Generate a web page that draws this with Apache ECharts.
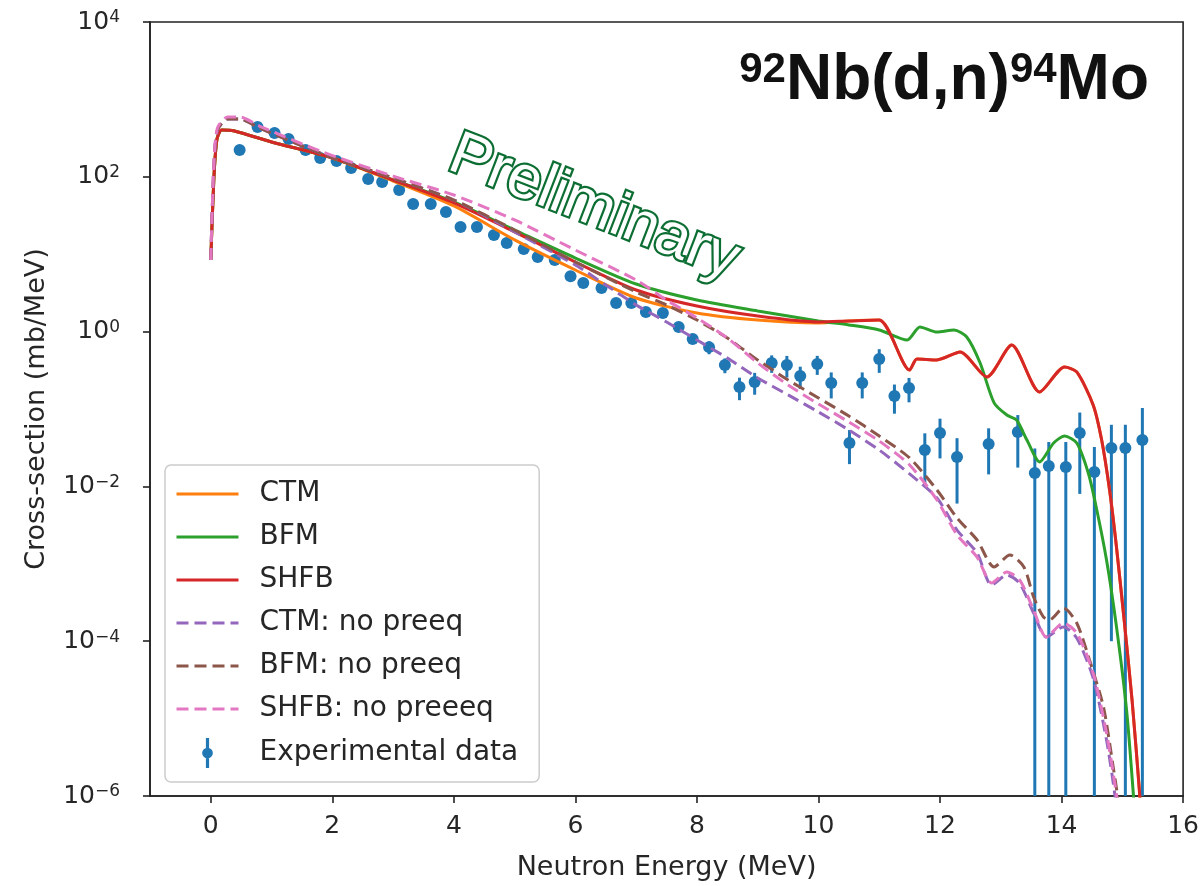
<!DOCTYPE html>
<html>
<head>
<meta charset="utf-8">
<script src="https://cdn.jsdelivr.net/npm/echarts@6/dist/echarts.min.js"></script>
<style>
  html, body { margin: 0; padding: 0; background: #ffffff; }
  #chart { width: 1202px; height: 886px; }
</style>
</head>
<body>
<div id="chart"></div>
<script>
// Neutron emission spectrum, 92Nb(d,n)94Mo: model curves and measured points.

// Axis ticks
const xTicks = [0, 2, 4, 6, 8, 10, 12, 14, 16];
const yTicks = [1e-6, 1e-4, 1e-2, 1, 1e2, 1e4];
const Y_MIN = 1e-6;

// CTM (with pre-equilibrium)
const ctmE = [0, 0.05, 0.10, 0.18, 0.39, 1.0, 2.0, 3.0, 4.0, 5.0, 6.0, 7.0, 8.0, 9.0, 10.0, 10.5, 11.0, 11.5, 11.62, 11.95, 12.33, 12.77, 13.18, 13.64, 14.05, 14.25, 14.52, 14.66, 14.79, 14.90, 15.03, 15.16, 15.28, 15.33];
const ctmXS = [8.42, 91, 299, 403, 391, 282, 175, 88.3, 42, 15.3, 6.25, 2.72, 1.74, 1.41, 1.29, 1.37, 1.41, 0.319, 0.443, 0.430, 0.545, 0.259, 0.671, 0.166, 0.349, 0.301, 0.113, 0.0397, 0.00898, 0.00175, 1.88e-4, 1.74e-5, 1.2e-6, 3e-7];

// BFM (with pre-equilibrium)
const bfmE = [0, 0.05, 0.10, 0.18, 0.39, 1.0, 2.0, 3.0, 4.0, 5.0, 6.0, 7.0, 8.0, 9.0, 10.0, 10.5, 11.0, 11.46, 11.67, 11.95, 12.23, 12.44, 12.66, 12.89, 13.10, 13.26, 13.43, 13.64, 13.87, 14.05, 14.25, 14.44, 14.57, 14.74, 14.90, 15.07, 15.18, 15.23];
const bfmXS = [8.42, 91, 299, 403, 391, 282, 175, 91, 47.3, 20.5, 8.93, 4.12, 2.56, 1.85, 1.37, 1.22, 1.05, 0.779, 1.15, 0.988, 1.05, 0.852, 0.393, 0.120, 0.0836, 0.0721, 0.0397, 0.0207, 0.0364, 0.0448, 0.0364, 0.0149, 0.00542, 0.00112, 1.62e-4, 1.29e-5, 1.09e-6, 3e-7];

// SHFB (with pre-equilibrium)
const shfbE = [0, 0.05, 0.10, 0.18, 0.39, 1.0, 2.0, 3.0, 4.0, 5.0, 6.0, 7.0, 8.0, 9.0, 10.0, 10.5, 11.0, 11.5, 11.62, 11.95, 12.33, 12.77, 13.18, 13.64, 14.05, 14.25, 14.52, 14.66, 14.79, 14.90, 15.03, 15.16, 15.28, 15.33];
const shfbXS = [8.42, 91, 299, 403, 391, 282, 175, 91, 45.9, 19.4, 7.93, 3.45, 2.14, 1.59, 1.33, 1.37, 1.41, 0.319, 0.443, 0.430, 0.545, 0.259, 0.671, 0.166, 0.349, 0.301, 0.113, 0.0397, 0.00898, 0.00175, 1.88e-4, 1.74e-5, 1.2e-6, 3e-7];

// CTM without pre-equilibrium
const ctmNpE = [0, 0.05, 0.11, 0.28, 0.48, 0.80, 1.84, 3.0, 4.0, 5.0, 6.0, 6.5, 7.0, 7.5, 8.0, 8.5, 9.0, 9.5, 10.0, 10.5, 11.0, 11.5, 11.95, 12.28, 12.61, 12.85, 13.10, 13.31, 13.54, 13.75, 14.03, 14.25, 14.52, 14.74, 14.88, 14.93];
const ctmNpXS = [8.42, 130, 400, 560, 560, 427, 197, 96.5, 50.1, 19.4, 7.25, 4.0, 2.21, 1.33, 0.779, 0.456, 0.252, 0.152, 0.0915, 0.0535, 0.0295, 0.0145, 0.00708, 0.00273, 0.00138, 5.32e-4, 7.17e-4, 5.6e-4, 2.31e-4, 1.13e-4, 1.53e-4, 1.1e-4, 3.35e-5, 5.3e-6, 1e-6, 4e-7];

// BFM without pre-equilibrium
const bfmNpE = [0, 0.05, 0.11, 0.28, 0.48, 0.80, 1.84, 3.0, 4.0, 5.0, 6.0, 7.0, 7.5, 8.0, 8.5, 9.0, 9.5, 10.0, 10.5, 11.0, 11.5, 11.95, 12.28, 12.61, 12.89, 13.15, 13.38, 13.54, 13.70, 13.80, 14.03, 14.25, 14.46, 14.69, 14.85, 14.92, 14.97];
const bfmNpXS = [8.42, 130, 400, 560, 560, 427, 197, 96.5, 50.1, 20.5, 7.93, 3.25, 2.21, 1.41, 0.827, 0.430, 0.237, 0.139, 0.0812, 0.0448, 0.0233, 0.00898, 0.00391, 0.00203, 9.1e-4, 0.0013, 9.1e-4, 3.72e-4, 2.06e-4, 1.88e-4, 2.69e-4, 1.72e-4, 5.71e-5, 1.41e-5, 2.37e-6, 1e-6, 3e-7];

// SHFB without pre-equilibrium
const shfbNpE = [0, 0.05, 0.11, 0.28, 0.48, 0.80, 1.84, 3.0, 4.0, 5.0, 6.0, 7.0, 7.5, 8.0, 8.5, 9.0, 9.5, 10.0, 10.5, 11.0, 11.5, 11.95, 12.28, 12.61, 12.85, 13.10, 13.31, 13.54, 13.75, 14.03, 14.25, 14.52, 14.74, 14.90, 14.95];
const shfbNpXS = [8.42, 142, 427, 593, 593, 453, 209, 102, 58.2, 27.7, 11.3, 4.64, 2.56, 1.50, 0.827, 0.393, 0.204, 0.116, 0.0679, 0.0386, 0.0189, 0.00667, 0.00236, 0.00122, 5.65e-4, 7.83e-4, 6.18e-4, 2.53e-4, 1.13e-4, 1.72e-4, 1.28e-4, 3.88e-5, 6.5e-6, 1.09e-6, 5e-7];

// Experimental data: energy (MeV), cross-section (mb/MeV), symmetric uncertainty
const expE = [0.475, 0.77, 1.05, 1.28, 1.56, 1.80, 2.07, 2.31, 2.59, 2.82, 3.10, 3.33, 3.62, 3.87, 4.11, 4.38, 4.66, 4.87, 5.15, 5.38, 5.66, 5.92, 6.13, 6.43, 6.67, 6.92, 7.16, 7.44, 7.70, 7.93, 8.20, 8.46, 8.70, 8.95, 9.23, 9.48, 9.70, 9.98, 10.21, 10.51, 10.72, 11.00, 11.25, 11.49, 11.75, 12.00, 12.28, 12.80, 13.28, 13.56, 13.79, 14.07, 14.30, 14.54, 14.82, 15.05, 15.33];
const expXS = [222, 440, 368, 308, 222, 175, 160, 130, 93.8, 85.7, 67.5, 44.6, 44.6, 35.1, 22.4, 22.4, 17.7, 14.0, 11.7, 9.2, 8.4, 5.2, 4.25, 3.66, 2.34, 2.34, 1.79, 1.74, 1.15, 0.80, 0.63, 0.37, 0.192, 0.223, 0.393, 0.37, 0.267, 0.381, 0.217, 0.0364, 0.217, 0.443, 0.147, 0.187, 0.0295, 0.049, 0.024, 0.0353, 0.0505, 0.0149, 0.0184, 0.0178, 0.049, 0.0153, 0.0313, 0.0313, 0.0398];
const expErr = [8, 12, 10, 9, 7, 6, 5, 4.5, 3.5, 3.2, 2.6, 1.9, 1.9, 1.5, 1.0, 1.0, 0.8, 0.7, 0.6, 0.5, 0.45, 0.3, 0.25, 0.22, 0.15, 0.15, 0.12, 0.12, 0.09, 0.08, 0.12, 0.08, 0.062, 0.07, 0.10, 0.115, 0.085, 0.105, 0.08, 0.017, 0.08, 0.15, 0.06, 0.065, 0.019, 0.026, 0.018, 0.021, 0.033, 0.016, 0.019, 0.0197, 0.041, 0.017, 0.0312, 0.0315, 0.063];

const FONT = '"DejaVu Sans", sans-serif';
const INK = '#262626';
const C = {
  blue: '#1f77b4', orange: '#ff7f0e', green: '#2ca02c', red: '#d62728',
  purple: '#9467bd', brown: '#8c564b', pink: '#e377c2'
};

function pairs(xs, ys) { return xs.map((x, i) => [x, ys[i]]); }

function curve(name, xs, ys, color, dashed) {
  return {
    name, type: 'line', data: pairs(xs, ys),
    showSymbol: false, symbol: 'none',
    smooth: 0.25,
    clip: true,
    lineStyle: { color, width: 3, type: dashed ? [12, 6] : 'solid' },
    itemStyle: { color },
    emphasis: { disabled: true }
  };
}

const expData = expE.map((e, i) => [e, expXS[i], expXS[i] - expErr[i], expXS[i] + expErr[i]]);

function renderErrorPoint(params, api) {
  const x = api.value(0), y = api.value(1), lo = api.value(2), hi = api.value(3);
  const c = api.coord([x, y]);
  const top = api.coord([x, hi]);
  const bot = api.coord([x, Math.max(lo, Y_MIN)]);
  return {
    type: 'group',
    children: [
      { type: 'line', shape: { x1: c[0], y1: top[1], x2: c[0], y2: bot[1] },
        style: { stroke: C.blue, lineWidth: 3 } },
      { type: 'circle', shape: { cx: c[0], cy: c[1], r: 6 }, style: { fill: C.blue } }
    ]
  };
}

const chart = echarts.init(document.getElementById('chart'), null, { renderer: 'canvas' });

const supRich = {
  b: { fontSize: 25, fontFamily: FONT, color: INK, verticalAlign: 'bottom' },
  s: { fontSize: 17, fontFamily: FONT, color: INK, verticalAlign: 'top', padding: [0, 0, 8, 0] }
};

const TITLE_FONT = '"Liberation Sans", Arial, sans-serif';

chart.setOption({
  animation: false,
  backgroundColor: '#ffffff',
  grid: { left: 150, right: 15, top: 22, bottom: 90, show: true, borderColor: '#222', borderWidth: 1.6, backgroundColor: 'transparent' },
  title: {
    text: '{s|92}{b|Nb(d,n)}{s|94}{b|Mo}',
    right: 48, top: 44,
    textStyle: {
      rich: {
        b: { fontSize: 64, fontWeight: 'bold', fontFamily: TITLE_FONT, color: '#111', verticalAlign: 'bottom' },
        s: { fontSize: 42, fontWeight: 'bold', fontFamily: TITLE_FONT, color: '#111', verticalAlign: 'top' }
      }
    }
  },
  xAxis: {
    type: 'value', min: -1, max: 16,
    name: 'Neutron Energy (MeV)', nameLocation: 'middle', nameGap: 58,
    nameTextStyle: { fontSize: 27, fontFamily: FONT, color: INK },
    axisLine: { show: true, onZero: false, lineStyle: { color: '#222', width: 1.6 } },
    axisTick: { show: true, inside: false, length: 7, customValues: xTicks, lineStyle: { color: '#222', width: 1.6 } },
    axisLabel: { customValues: xTicks, fontSize: 25, fontFamily: FONT, color: INK, margin: 18 },
    splitLine: { show: false }
  },
  yAxis: {
    type: 'log', logBase: 10, min: Y_MIN, max: 1e4,
    name: 'Cross-section (mb/MeV)', nameLocation: 'middle', nameGap: 100,
    nameTextStyle: { fontSize: 27, fontFamily: FONT, color: INK },
    axisLine: { show: true, onZero: false, lineStyle: { color: '#222', width: 1.6 } },
    axisTick: { show: true, inside: false, length: 7, customValues: yTicks, lineStyle: { color: '#222', width: 1.6 } },
    axisLabel: {
      customValues: yTicks, margin: 30,
      formatter: v => {
        const e = Math.round(Math.log10(v));
        return '{b|10}{s|' + (e < 0 ? '\u2212' + (-e) : String(e)) + '}';
      },
      rich: supRich
    },
    splitLine: { show: false },
    minorTick: { show: false }
  },
  legend: {
    orient: 'vertical', left: 165, top: 465,
    backgroundColor: 'rgba(255,255,255,0.85)', borderColor: '#cccccc', borderWidth: 1.5, borderRadius: 6,
    padding: [15, 21, 14, 10],
    itemWidth: 62, itemHeight: 30, itemGap: 15,
    itemStyle: { opacity: 0 },
    lineStyle: { width: 3 },
    textStyle: { fontSize: 28, fontFamily: FONT, color: INK, padding: [0, 0, 0, 16] },
    data: [
      { name: 'CTM' }, { name: 'BFM' }, { name: 'SHFB' },
      { name: 'CTM: no preeq' }, { name: 'BFM: no preeq' }, { name: 'SHFB: no preeeq' },
      { name: 'Experimental data',
        icon: 'path://M-1.5,-14 L1.5,-14 L1.5,14 L-1.5,14 Z M-5,0 A5,5 0 1,1 5,0 A5,5 0 1,1 -5,0 Z',
        itemStyle: { opacity: 1, color: C.blue } }
    ]
  },
  series: [
    curve('CTM', ctmE, ctmXS, C.orange, false),
    curve('BFM', bfmE, bfmXS, C.green, false),
    curve('SHFB', shfbE, shfbXS, C.red, false),
    curve('CTM: no preeq', ctmNpE, ctmNpXS, C.purple, true),
    curve('BFM: no preeq', bfmNpE, bfmNpXS, C.brown, true),
    curve('SHFB: no preeeq', shfbNpE, shfbNpXS, C.pink, true),
    {
      name: 'Experimental data', type: 'custom', data: expData,
      encode: { x: 0, y: 1 }, clip: true,
      itemStyle: { color: C.blue },
      renderItem: renderErrorPoint
    }
  ],
  graphic: [
    {
      type: 'text', x: 594, y: 208, rotation: -0.37, z: 100,
      style: {
        text: 'Preliminary',
        font: '61px "Liberation Sans", Arial, sans-serif',
        align: 'center', verticalAlign: 'middle',
        fill: '#ffffff', stroke: '#0d6e33', lineWidth: 4.5,
        shadowBlur: 5, shadowColor: 'rgba(0,0,0,0.4)', shadowOffsetX: 3, shadowOffsetY: 3
      }
    }
  ]
});
</script>
</body>
</html>
